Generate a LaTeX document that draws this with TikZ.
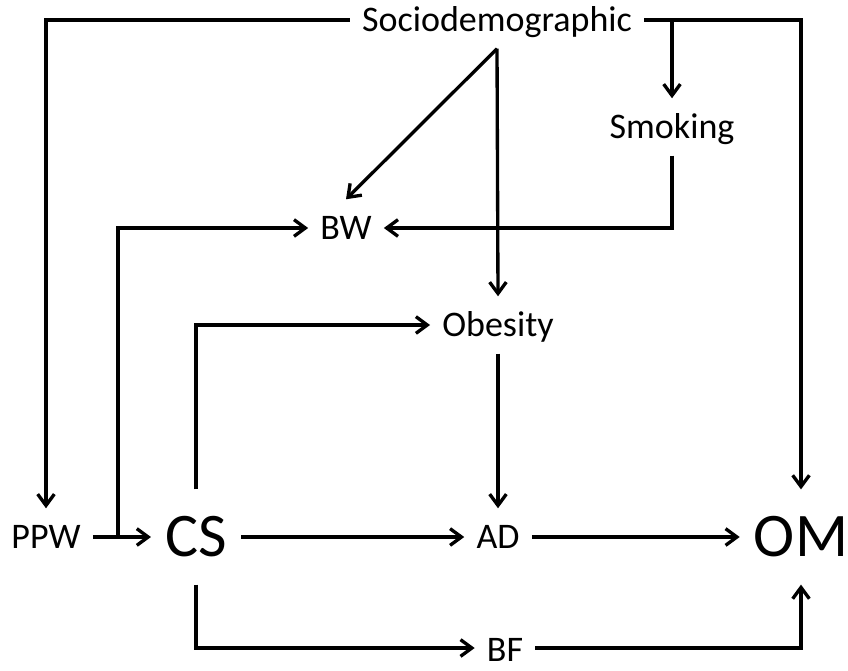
\documentclass[tikz,border=0pt]{standalone}
\usepackage{fontspec}
\setmainfont{Carlito}
\usetikzlibrary{arrows.meta}

\begin{document}
\begin{tikzpicture}[
  x=0.75pt,y=-0.75pt,
  font=\fontsize{27}{32}\selectfont,
  var/.style={inner xsep=9pt,inner ysep=10pt,text height=20pt,text depth=2.7pt},
  keyvar/.style={var,font=\fontsize{46.5}{54}\selectfont,inner xsep=10.5pt,
    inner ysep=16pt,text height=34.4pt,text depth=4.6pt},
  flow/.style={-{Straight Barb[length=8.5pt,width=12.5pt]},line width=2.5pt}
]
  \useasboundingbox (0,0) rectangle (848,670);

  \node[var] (socio) at (497,20) {Sociodemographic};
  \node[var] (smoking) at (672,127) {Smoking};
  \node[var] (bw) at (346,228) {BW};
  \node[var] (obesity) at (498,325) {Obesity};
  \node[var] (ppw) at (46,537) {PPW};
  \node[keyvar] (cs) at (196,537) {CS};
  \node[var] (ad) at (498,537) {AD};
  \node[keyvar] (om) at (801,537) {OM};
  \node[var,inner ysep=1pt,text depth=0pt] (bf) at (505,648) {BF};

  \coordinate (split) at (118,537);

  % sociodemographic paths
  \draw[flow] (socio.west) -| (ppw.north);
  \draw[flow] (socio.east) -| (om.north);
  \draw[flow] (socio.east -| smoking.north) -- (smoking.north);
  \draw[flow] (socio.south) -- (bw.north);
  \draw[flow] (socio.south) -- (obesity.north);
  \draw[flow] (smoking.south) |- (bw.east);

  % main row
  \draw[flow] (ppw) -- (cs);
  \draw[flow] (split) |- (bw.west);
  \draw[flow] (cs.north) |- (obesity.west);
  \draw[flow] (obesity) -- (ad);
  \draw[flow] (cs) -- (ad);
  \draw[flow] (ad) -- (om);
  \draw[flow] (cs.south) |- (bf.west);
  \draw[flow] (bf.east) -| (om.south);
\end{tikzpicture}
\end{document}
